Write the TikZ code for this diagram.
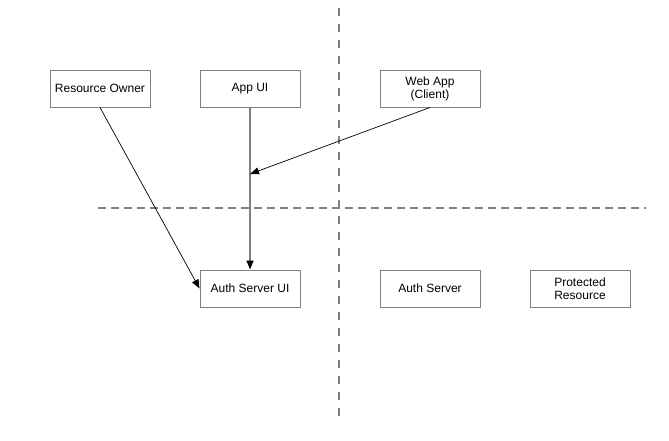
\documentclass[tikz,border=0pt]{standalone}
\usepackage{fontspec}
\setmainfont{Liberation Sans}
\usetikzlibrary{arrows.meta}
\definecolor{linegray}{HTML}{808080}
\begin{document}
\begin{tikzpicture}[x=1pt,y=-1pt,
  box/.style={draw=linegray,line width=0.9pt,minimum width=100pt,minimum height=37pt,inner sep=1pt,align=center,font=\fontsize{12}{13}\selectfont},
  divider/.style={draw=linegray,line width=1.4pt},
  arr/.style={draw=black,line width=0.7pt,-{Triangle[length=9pt,width=7pt,fill=black,color=black]}},
  garr/.style={draw=linegray,line width=1.5pt,-{Triangle[length=9pt,width=7pt,fill=black,color=black]}}]
\useasboundingbox (0,0) rectangle (669,440);
\coordinate (vtop) at (339,8);
\coordinate (vbot) at (339,417);
\coordinate (hl) at (98,208);
\coordinate (hr) at (646,208);
\draw[divider,dash pattern=on 8pt off 8pt] (vtop) -- (vbot);
\draw[divider,dash pattern=on 8pt off 5pt] (hl) -- (hr);
\node[box] (ro) at (100,88.5) {Resource Owner};
\node[box] (app) at (250,88.5) {App UI};
\node[box] (web) at (430,88.5) {Web App\\(Client)};
\node[box] (asui) at (250,288.5) {Auth Server UI};
\node[box] (as) at (430,288.5) {Auth Server};
\node[box] (pr) at (580,288.5) {Protected\\Resource};
\coordinate (j) at (250,174);
\draw[garr] (app.south) -- (asui.north);
\draw[arr] (ro.south) -- (asui.west);
\draw[arr] (web.south) -- (j);
\end{tikzpicture}
\end{document}
